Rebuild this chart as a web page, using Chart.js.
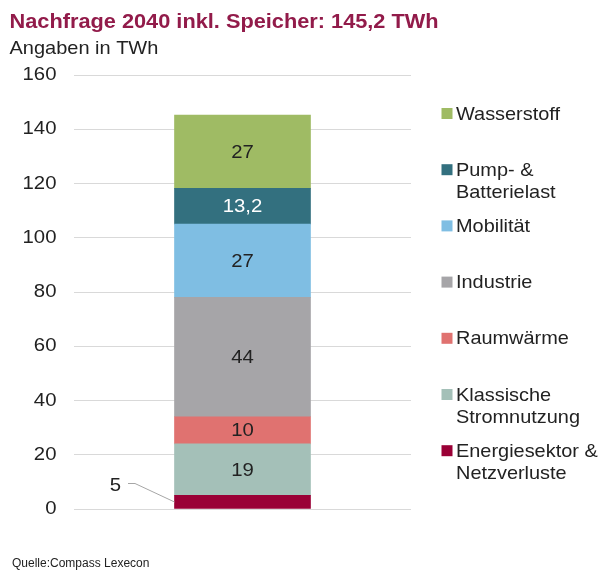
<!DOCTYPE html>
<html><head><meta charset="utf-8">
<script src="https://cdn.jsdelivr.net/npm/chart.js@4"></script>
<style>html,body{margin:0;padding:0;background:#fff}#wrap{width:616px;height:575px;position:relative}</style>
</head><body><div id="wrap"><canvas id="c" width="616" height="575"></canvas></div>
<script>
const categories = ['2040'];
const seriesNames = [
  ['Energiesektor &', 'Netzverluste'],
  ['Klassische', 'Stromnutzung'],
  ['Raumwärme'],
  ['Industrie'],
  ['Mobilität'],
  ['Pump- &', 'Batterielast'],
  ['Wasserstoff']
];
const seriesValues = [5, 19, 10, 44, 27, 13.2, 27];
const seriesColors = ['#9a0036', '#a4c0b8', '#e07270', '#a6a5a8', '#7fbee3', '#33707f', '#9fbb64'];
const labelColors = ['#222222', '#222222', '#222222', '#222222', '#222222', '#ffffff', '#222222'];
const yTicks = [0, 20, 40, 60, 80, 100, 120, 140, 160];
const titleText = 'Nachfrage 2040 inkl. Speicher: 145,2 TWh';
const subtitleText = 'Angaben in TWh';
const sourceText = 'Quelle:Compass Lexecon';

const FONT = "'Liberation Sans', Arial, sans-serif";
const SX = 1.1; // horizontal stretch of the reference typography
const fmt = v => String(v).replace('.', ',');

function txt(ctx, s, x, y, font, color, align, baseline, sx) {
  ctx.save();
  ctx.font = font;
  ctx.fillStyle = color;
  ctx.textAlign = align;
  ctx.textBaseline = baseline;
  ctx.translate(x, y);
  ctx.scale(sx, 1);
  ctx.fillText(s, 0, 0);
  ctx.restore();
}

const datasets = seriesValues.map((v, i) => ({
  label: seriesNames[i].join(' '),
  data: [v],
  backgroundColor: seriesColors[i],
  borderWidth: 0,
  barThickness: 136
}));

const deco = {
  id: 'deco',
  afterDatasetsDraw(chart) {
    const ctx = chart.ctx;
    const ys = chart.scales.y;
    yTicks.forEach(v => txt(ctx, String(v), 56.5, ys.getPixelForValue(v), '18.5px ' + FONT, '#222222', 'right', 'middle', SX));
    chart.data.datasets.forEach((ds, i) => {
      const el = chart.getDatasetMeta(i).data[0];
      const yc = (el.y + el.base) / 2;
      if (i === 0) {
        const left = el.x - el.width / 2;
        ctx.save();
        ctx.strokeStyle = '#a6a6a6';
        ctx.lineWidth = 1;
        ctx.beginPath();
        ctx.moveTo(128, 483.5);
        ctx.lineTo(135, 483.5);
        ctx.lineTo(left, yc);
        ctx.stroke();
        ctx.restore();
        txt(ctx, fmt(ds.data[0]), 121, 485.5, '18.5px ' + FONT, '#222222', 'right', 'middle', SX);
        return;
      }
      txt(ctx, fmt(ds.data[0]), el.x, yc + 1, '18.5px ' + FONT, labelColors[i], 'center', 'middle', SX);
    });
    const n = seriesNames.length;
    for (let k = 0; k < n; k++) {
      const i = n - 1 - k;
      const base = 119.5 + k * 56.2;
      ctx.fillStyle = seriesColors[i];
      ctx.fillRect(441.5, base - 11.5, 11, 11);
      seriesNames[i].forEach((line, j) =>
        txt(ctx, line, 456, base + j * 22, '17.8px ' + FONT, '#222222', 'left', 'alphabetic', 1.12));
    }
    txt(ctx, titleText, 9.5, 27.5, 'bold 19.6px ' + FONT, '#921b4a', 'left', 'alphabetic', 1.11);
    txt(ctx, subtitleText, 9.5, 53.5, '18.5px ' + FONT, '#222222', 'left', 'alphabetic', 1.08);
    txt(ctx, sourceText, 12, 567, '12px ' + FONT, '#222222', 'left', 'alphabetic', 1.0);
  }
};

new Chart(document.getElementById('c'), {
  type: 'bar',
  data: { labels: categories, datasets },
  options: {
    responsive: false,
    animation: false,
    devicePixelRatio: 1,
    layout: { padding: { left: 0, top: 75, right: 205, bottom: 66 } },
    plugins: { legend: { display: false }, tooltip: { enabled: false }, title: { display: false } },
    scales: {
      x: { stacked: true, display: false },
      y: {
        stacked: true,
        min: 0,
        max: 160,
        afterFit(s) { s.width = 74; },
        afterBuildTicks(s) { s.ticks = yTicks.map(v => ({ value: v })); },
        ticks: { display: false },
        grid: { color: '#d9d9d9', lineWidth: 1, drawTicks: false },
        border: { display: false }
      }
    }
  },
  plugins: [deco]
});
</script>
</body></html>
